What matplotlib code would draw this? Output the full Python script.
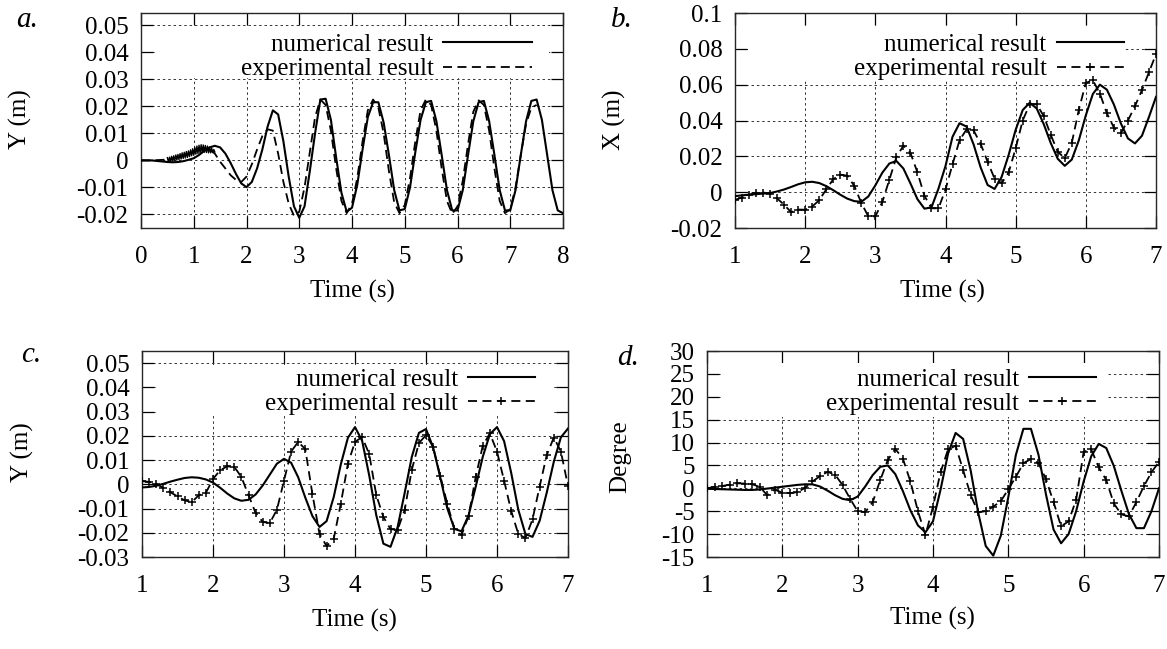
import numpy as np
import matplotlib
matplotlib.use('Agg')
import matplotlib.pyplot as plt
from matplotlib.patches import Rectangle
from matplotlib.ticker import FuncFormatter

plt.rcParams['font.family'] = ['Liberation Serif', 'DejaVu Serif']
plt.rcParams['axes.unicode_minus'] = False

# ---- data ----
t_a = np.round(np.arange(0, 8.01, 0.1), 2)
t_a_exp = t_a[:76]
t_noise = np.round(np.arange(0.5, 1.401, 0.02), 2)
t_bcd = np.round(np.arange(1, 7.01, 0.1), 2)

a_num = [0, 0, 0, -0.0002, -0.0004, -0.0006, -0.0007, -0.0006, -0.0003, 0.0002,
         0.0008, 0.002, 0.0035, 0.0048, 0.0054, 0.0048, 0.0025, -0.001, -0.005, -0.0085,
         -0.0099, -0.008, -0.003, 0.004, 0.0125, 0.0185, 0.017, 0.007, -0.006, -0.017,
         -0.0212, -0.017, -0.004, 0.01, 0.0225, 0.0228, 0.015, 0.001, -0.012, -0.019,
         -0.0175, -0.009, 0.004, 0.016, 0.0215, 0.0215, 0.014, 0.002, -0.011, -0.0185,
         -0.018, -0.01, 0.003, 0.015, 0.0215, 0.022, 0.0145, 0.002, -0.011, -0.0185,
         -0.0185, -0.011, 0.002, 0.0145, 0.0215, 0.022, 0.0145, 0.002, -0.011, -0.0185,
         -0.0185, -0.011, 0.002, 0.0145, 0.022, 0.0225, 0.015, 0.002, -0.011, -0.0185,
         -0.0195]
a_exp = [0, 0, 0, 0.0001, 0.0002, 0.0003, 0.0007, 0.0012, 0.0018, 0.0024,
         0.003, 0.0038, 0.0042, 0.004, 0.0025, -0.0005, -0.003, -0.0055, -0.0072, -0.008,
         -0.006, -0.0015, 0.004, 0.009, 0.0115, 0.011, 0.0025, -0.008, -0.016, -0.0205,
         -0.019, -0.01, 0.003, 0.016, 0.0225, 0.0205, 0.011, -0.003, -0.015, -0.0195,
         -0.016, -0.0065, 0.007, 0.0185, 0.0225, 0.0195, 0.01, -0.004, -0.0155, -0.0195,
         -0.0165, -0.0065, 0.007, 0.0185, 0.0225, 0.0205, 0.011, -0.003, -0.015, -0.0198,
         -0.017, -0.0075, 0.006, 0.018, 0.0222, 0.0205, 0.011, -0.003, -0.015, -0.0195,
         -0.018, -0.01, 0.002, 0.0135, 0.0195, 0.0205]
# jittery start of the measured signal
a_noise = [0.0010, -0.0006, 0.0012, -0.0005, 0.0015, -0.0003, 0.0017, -0.0001, 0.0020, 0.0001,
           0.0022, 0.0003, 0.0025, 0.0005, 0.0028, 0.0007, 0.0030, 0.0009, 0.0033, 0.0011,
           0.0035, 0.0014, 0.0039, 0.0017, 0.0043, 0.0019, 0.0048, 0.0023, 0.0053, 0.0025,
           0.0056, 0.0027, 0.0058, 0.0029, 0.0057, 0.0030, 0.0055, 0.0029, 0.0053, 0.0028,
           0.0049, 0.0028, 0.0045, 0.0029, 0.0040, 0.0031]

b_num = [-0.0022, -0.0018, -0.0014, -0.0011, -0.0008, -0.0005, 0.0004, 0.0015, 0.0029, 0.0044,
         0.0055, 0.0058, 0.0051, 0.0034, 0.0011, -0.0014, -0.0036, -0.005, -0.0054, -0.0024,
         0.0038, 0.0109, 0.016, 0.0174, 0.0132, 0.0049, -0.0039, -0.0092, -0.0085, 0.002,
         0.0146, 0.0309, 0.0385, 0.0366, 0.0267, 0.0139, 0.004, 0.0018, 0.0085, 0.0208,
         0.0348, 0.0458, 0.0499, 0.0467, 0.038, 0.0274, 0.0186, 0.0147, 0.0182, 0.0289,
         0.0429, 0.0548, 0.06, 0.0572, 0.0489, 0.0383, 0.03, 0.0272, 0.0315, 0.042,
         0.0532]
b_exp = [-0.0043, -0.003, -0.0015, -0.0003, -0.0002, -0.0008, -0.0035, -0.007, -0.0112, -0.0097,
         -0.0098, -0.008, -0.0045, 0.0015, 0.0072, 0.0098, 0.0092, 0.0035, -0.006, -0.0135,
         -0.0135, -0.0055, 0.007, 0.0195, 0.026, 0.022, 0.011, -0.002, -0.009, -0.009,
         0.0015, 0.0155, 0.029, 0.035, 0.0345, 0.027, 0.017, 0.0075, 0.005, 0.011,
         0.0245, 0.04, 0.049, 0.049, 0.0425, 0.032, 0.0225, 0.019, 0.0275, 0.046,
         0.061, 0.0625, 0.055, 0.044, 0.036, 0.033, 0.04, 0.048, 0.057, 0.067,
         0.077]

c_num = [-0.0013, -0.0011, -0.0006, 0.0002, 0.0011, 0.0019, 0.0026, 0.0029, 0.0027, 0.002,
         0.0007, -0.0014, -0.0038, -0.0058, -0.0068, -0.0064, -0.0042, -0.0005, 0.004, 0.0085,
         0.0105, 0.0089, 0.0029, -0.0055, -0.0131, -0.0176, -0.0152, -0.0053, 0.0082, 0.0192,
         0.0236, 0.018, 0.0037, -0.0128, -0.0245, -0.0258, -0.0177, -0.0035, 0.0113, 0.0212,
         0.0228, 0.0153, 0.003, -0.0099, -0.0184, -0.0194, -0.0128, -0.001, 0.0114, 0.0207,
         0.0236, 0.0178, 0.0047, -0.0105, -0.0205, -0.0217, -0.0151, -0.0035, 0.0093, 0.0194,
         0.023]
c_exp = [0.0013, 0.001, 0.0002, -0.0015, -0.0033, -0.005, -0.0066, -0.0074, -0.0045, -0.0035,
         0.0022, 0.0058, 0.0074, 0.0072, 0.003, -0.0045, -0.0118, -0.0155, -0.016, -0.0105,
         0.0015, 0.0135, 0.0175, 0.0145, -0.004, -0.0205, -0.0255, -0.0225, -0.008, 0.0085,
         0.0175, 0.0195, 0.0125, -0.0045, -0.0135, -0.0185, -0.0188, -0.0105, 0.006, 0.017,
         0.0203, 0.0155, 0.0035, -0.008, -0.0185, -0.021, -0.013, 0.003, 0.016, 0.021,
         0.0135, 0.0015, -0.011, -0.0205, -0.0222, -0.0145, -0.001, 0.012, 0.0193, 0.0135,
         -0.0007]

d_num = [-0.1, -0.15, -0.2, -0.25, -0.3, -0.35, -0.35, -0.25, -0.05, 0.15,
         0.35, 0.55, 0.75, 0.88, 0.87, 0.4, -0.5, -1.5, -2.3, -2.6,
         -1.8, 0.4, 2.9, 4.7, 5.0, 3.1, -0.6, -4.8, -8.1, -9.6,
         -7.2, -0.3, 7.6, 12.1, 10.8, 3.9, -5.3, -12.6, -14.7, -10.35,
         -1.9, 7.3, 13.0, 13.0, 7.35, -1.35, -9.0, -12.0, -10.0, -5.0,
         1.5, 7.0, 9.7, 8.8, 4.9, -0.5, -5.6, -8.7, -8.7, -5.0,
         0.0]
d_exp = [0.0, 0.35, 0.5, 0.8, 1.1, 1.05, 0.9, 0.3, -1.5, -0.3,
         -0.95, -1.05, -0.85, 0.1, 1.5, 2.65, 3.6, 3.0, 0.7, -2.3,
         -5.0, -5.2, -3.0, 1.8, 6.2, 8.6, 6.5, 1.5, -5.0, -10.2,
         -4.0, 3.5, 8.5, 9.3, 4.0, -1.5, -5.2, -5.0, -4.0, -2.8,
         -0.2, 2.5, 5.5, 6.4, 5.5, 2.0, -3.0, -8.3, -7.2, -2.5,
         8.0, 8.5, 4.6, 1.8, -3.3, -5.7, -6.1, -3.0, 0.5, 3.5,
         5.8]

W, H = 1167, 649
FS = 18
fig = plt.figure(figsize=(W / 100, H / 100), dpi=100)


def px_axes(l, t, r, b):
    return fig.add_axes([l / W, 1 - b / H, (r - l) / W, (b - t) / H])


def style(ax, xlim, ylim, yticks, xticks):
    ax.set_xlim(*xlim)
    ax.set_ylim(*ylim)
    ax.set_xticks(xticks)
    ax.set_yticks(yticks)
    ax.yaxis.set_major_formatter(FuncFormatter(lambda v, p: '%g' % round(v, 4)))
    ax.xaxis.set_major_formatter(FuncFormatter(lambda v, p: '%g' % v))
    ax.set_axisbelow(True)
    ax.grid(True, color='0.2', lw=0.7, ls=(0, (2.5, 3)))
    ax.tick_params(direction='in', top=True, right=True, length=8.5, width=0.9,
                   labelsize=FS)
    ax.tick_params(axis='x', pad=13)
    ax.tick_params(axis='y', pad=9)
    for s in ax.spines.values():
        s.set_linewidth(1.0)
        s.set_color('0.15')


def key_box(ax, x0, x1, y0, y1):
    # white area behind the key, hides the grid like gnuplot's opaque key
    ax.add_patch(Rectangle((x0, y0), x1 - x0, y1 - y0, transform=ax.transAxes,
                           facecolor='white', edgecolor='none', zorder=1))


def key(ax, xr, yt, hl):
    ax.legend(loc='upper right', bbox_to_anchor=(xr, yt), frameon=False,
              markerfirst=False, fontsize=FS, handlelength=hl, handletextpad=0.4,
              labelspacing=0.08, borderpad=0, borderaxespad=0, numpoints=1)


sol = dict(color='black', lw=1.5, zorder=3)
exp = dict(color='black', lw=1.3, ls=(0, (5, 3)), zorder=3)
mk = dict(marker='+', ms=5.5, mew=1.1)

# a.
ax = px_axes(141, 13, 563, 228)
style(ax, (0, 8), (-0.025, 0.0545), np.arange(-0.02, 0.051, 0.01), range(0, 9))
key_box(ax, 0.032, 0.968, 0.697, 0.93)
ax.plot(t_a, a_num, label='numerical result', **sol)
ax.plot(t_a_exp, a_exp, label='experimental result', **exp)
ax.plot(t_noise, a_noise, color='black', lw=1.0, zorder=3)
key(ax, 0.927, 0.905, 3.55)

# b.
ax = px_axes(735, 13, 1156, 228)
style(ax, (1, 7), (-0.02, 0.1), np.arange(-0.02, 0.101, 0.02), range(1, 8))
key_box(ax, 0.032, 0.925, 0.683, 0.94)
ax.plot(t_bcd, b_num, label='numerical result', **sol)
ax.plot(t_bcd, b_exp, label='experimental result', **exp, **mk)
key(ax, 0.924, 0.905, 2.7)

# c.
ax = px_axes(142, 351, 568, 557)
style(ax, (1, 7), (-0.03, 0.055), np.arange(-0.03, 0.051, 0.01), range(1, 8))
key_box(ax, 0.032, 0.968, 0.694, 0.93)
ax.plot(t_bcd, c_num, label='numerical result', **sol)
ax.plot(t_bcd, c_exp, label='experimental result', **exp, **mk)
key(ax, 0.923, 0.917, 2.7)

# d.
ax = px_axes(707, 351, 1159, 557)
style(ax, (1, 7), (-15, 30), np.arange(-15, 31, 5), range(1, 8))
key_box(ax, 0.032, 0.885, 0.678, 0.94)
ax.plot(t_bcd, d_num, label='numerical result', **sol)
ax.plot(t_bcd, d_exp, label='experimental result', **exp, **mk)
key(ax, 0.861, 0.917, 2.7)


def ftext(x, y, s, **kw):
    fig.text(x / W, 1 - y / H, s, ha='center', va='center', **kw)


ftext(20, 119, 'Y (m)', rotation=90, fontsize=FS)
ftext(614, 120, 'X (m)', rotation=90, fontsize=FS)
ftext(22, 452, 'Y (m)', rotation=90, fontsize=FS)
ftext(620, 457, 'Degree', rotation=90, fontsize=FS)
for x, y in [(352, 291), (942, 291), (354, 620), (932, 618)]:
    ftext(x, y, 'Time (s)', fontsize=FS)
for x, y, s in [(27, 20, 'a.'), (622, 20, 'b.'), (31, 355, 'c.'), (628, 358, 'd.')]:
    ftext(x, y, s, fontsize=21, style='italic')

fig.savefig('out.png', dpi=100)
